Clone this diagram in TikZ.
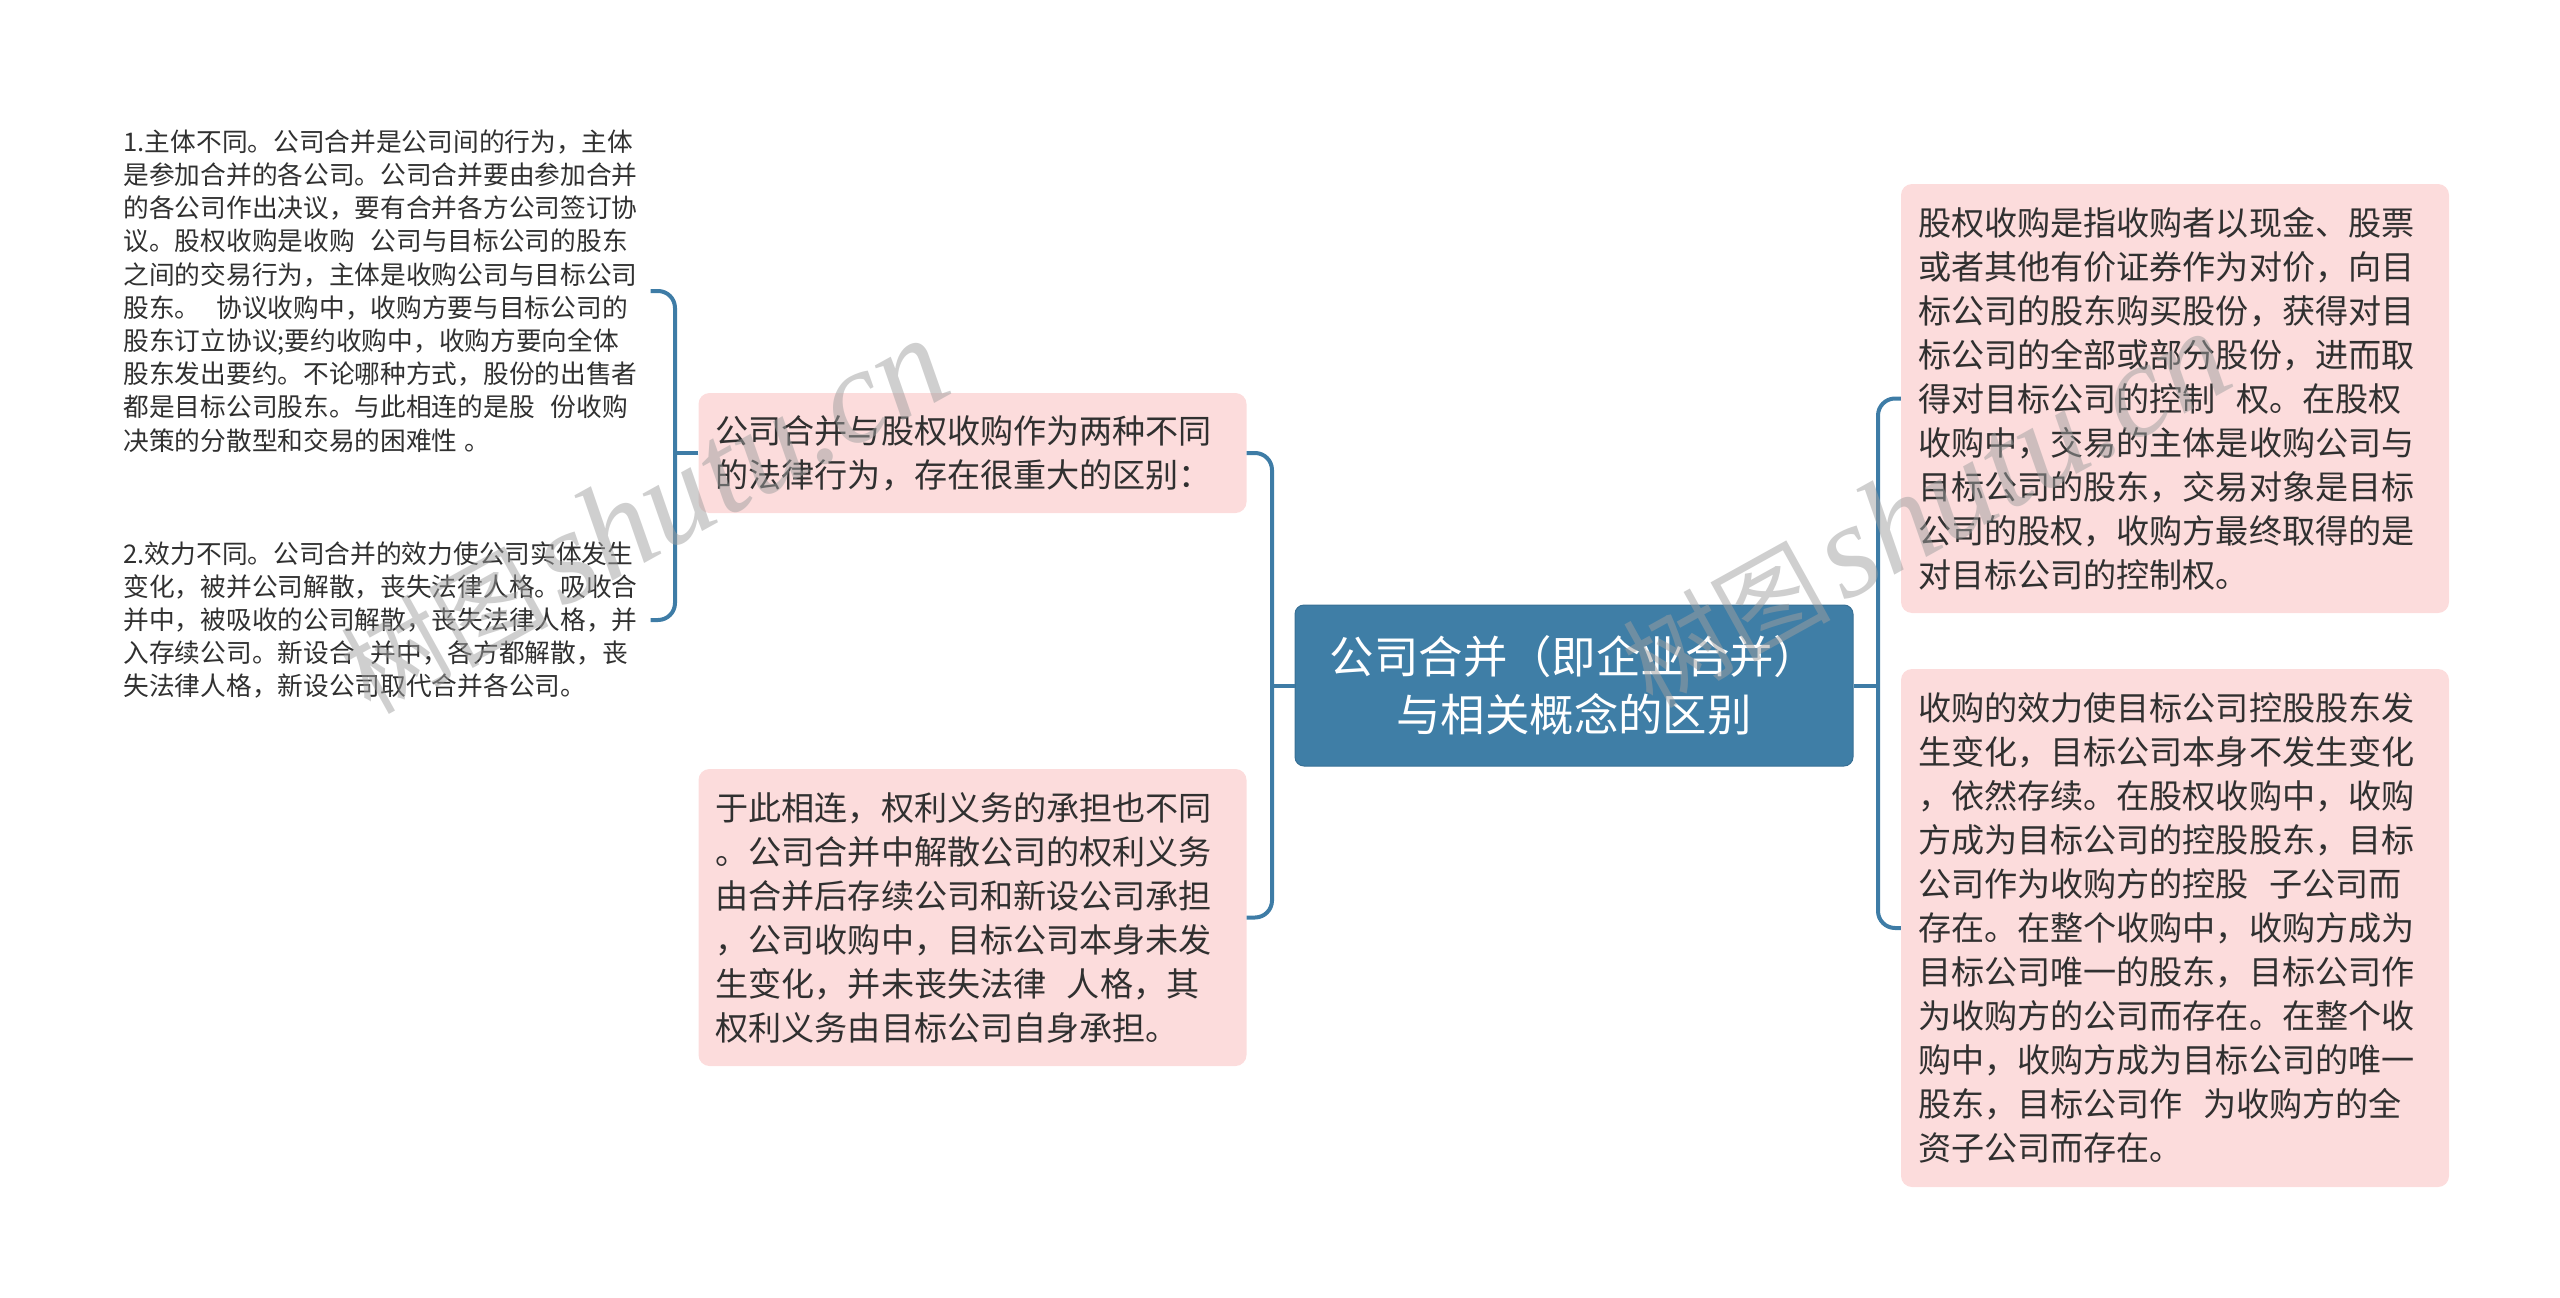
\documentclass[tikz,border=0pt]{standalone}
\usepackage{fontspec}
\setmainfont{Noto Sans CJK SC}
\newfontfamily\wmlatin{Liberation Serif}[ItalicFont=* Italic]
\newcommand\gp{\hspace{0.62em}}
\newcommand\wmtext{{\fontsize{104}{120}\selectfont 树图}\hspace{12pt}{\wmlatin\itshape\fontsize{134}{120}\selectfont shutu.cn}}
\definecolor{linkblue}{HTML}{3E7CA6}
\definecolor{rootblue}{HTML}{3F7EA6}
\definecolor{pinkfill}{HTML}{FCDCDC}
\definecolor{bodytext}{HTML}{303030}
\tikzset{
  rootbox/.style={draw=linkblue!90!black,line width=1pt,fill=rootblue,rounded corners=9pt,text=white,inner sep=0pt,
    minimum width=558pt,minimum height=161pt,text width=558pt,align=center,font=\fontsize{44.4}{58}\selectfont},
  pinkbox/.style={fill=pinkfill,rounded corners=11pt,text=bodytext,inner xsep=17pt,inner ysep=0pt,
    text width=514pt,align=left,font=\fontsize{33.1}{44}\selectfont},
  leaf/.style={text=bodytext,inner sep=0pt,text width=527pt,align=left,font=\fontsize{25.7}{33.2}\selectfont},
  link/.style={draw=linkblue,line width=4pt,rounded corners=17pt},
  wmark/.style={text=gray!75,opacity=0.5,inner sep=0pt,rotate=29}
}
\begin{document}
\begin{tikzpicture}[x=1pt,y=-1pt]
\useasboundingbox (0,0) rectangle (2560,1298);
\node[rootbox] (root) at (1574,685.5) {公司合并（即企业合并）\\与相关概念的区别};
\node[pinkbox,minimum height=120pt] (a) at (972.5,453) {公司合并与股权收购作为两种不同\\的法律行为，存在很重大的区别：};
\node[pinkbox,minimum height=297pt] (b) at (972.5,917.5) {于此相连，权利义务的承担也不同\\。公司合并中解散公司的权利义务\\由合并后存续公司和新设公司承担\\，公司收购中，目标公司本身未发\\生变化，并未丧失法律\gp 人格，其\\权利义务由目标公司自身承担。};
\node[pinkbox,minimum height=429pt] (c) at (2175,398.5) {股权收购是指收购者以现金、股票\\或者其他有价证券作为对价，向目\\标公司的股东购买股份，获得对目\\标公司的全部或部分股份，进而取\\得对目标公司的控制\gp 权。在股权\\收购中，交易的主体是收购公司与\\目标公司的股东，交易对象是目标\\公司的股权，收购方最终取得的是\\对目标公司的控制权。};
\node[pinkbox,minimum height=518pt] (d) at (2175,928) {收购的效力使目标公司控股股东发\\生变化，目标公司本身不发生变化\\，依然存续。在股权收购中，收购\\方成为目标公司的控股股东，目标\\公司作为收购方的控股\gp 子公司而\\存在。在整个收购中，收购方成为\\目标公司唯一的股东，目标公司作\\为收购方的公司而存在。在整个收\\购中，收购方成为目标公司的唯一\\股东，目标公司作\gp 为收购方的全\\资子公司而存在。};
\node[leaf] (t1) at (387,291) {1.主体不同。公司合并是公司间的行为，主体\\是参加合并的各公司。公司合并要由参加合并\\的各公司作出决议，要有合并各方公司签订协\\议。股权收购是收购\gp 公司与目标公司的股东\\之间的交易行为，主体是收购公司与目标公司\\股东。\gp 协议收购中，收购方要与目标公司的\\股东订立协议;要约收购中，收购方要向全体\\股东发出要约。不论哪种方式，股份的出售者\\都是目标公司股东。与此相连的是股\gp 份收购\\决策的分散型和交易的困难性\hspace{0.25em}。};
\node[leaf] (t2) at (387,620) {2.效力不同。公司合并的效力使公司实体发生\\变化，被并公司解散，丧失法律人格。吸收合\\并中，被吸收的公司解散，丧失法律人格，并\\入存续公司。新设合\gp 并中，各方都解散，丧\\失法律人格，新设公司取代合并各公司。};
\coordinate (lspine) at (1272,685.5);
\coordinate (rspine) at (1878,685.5);
\coordinate (aspine) at (675,453);
\draw[link] (a.east) -| (lspine) |- (b.east);
\draw[link] (c.west) -| (rspine) |- (d.west);
\draw[link] (t1.east) -| (aspine) |- (t2.east);
\draw[link] (root.west) -- (lspine);
\draw[link] (root.east) -- (rspine);
\draw[link] (a.west) -- (aspine);
\node[wmark] (wm1) at (643,516) {\wmtext};
\node[wmark] (wm2) at (1925,510) {\wmtext};
\end{tikzpicture}
\end{document}
